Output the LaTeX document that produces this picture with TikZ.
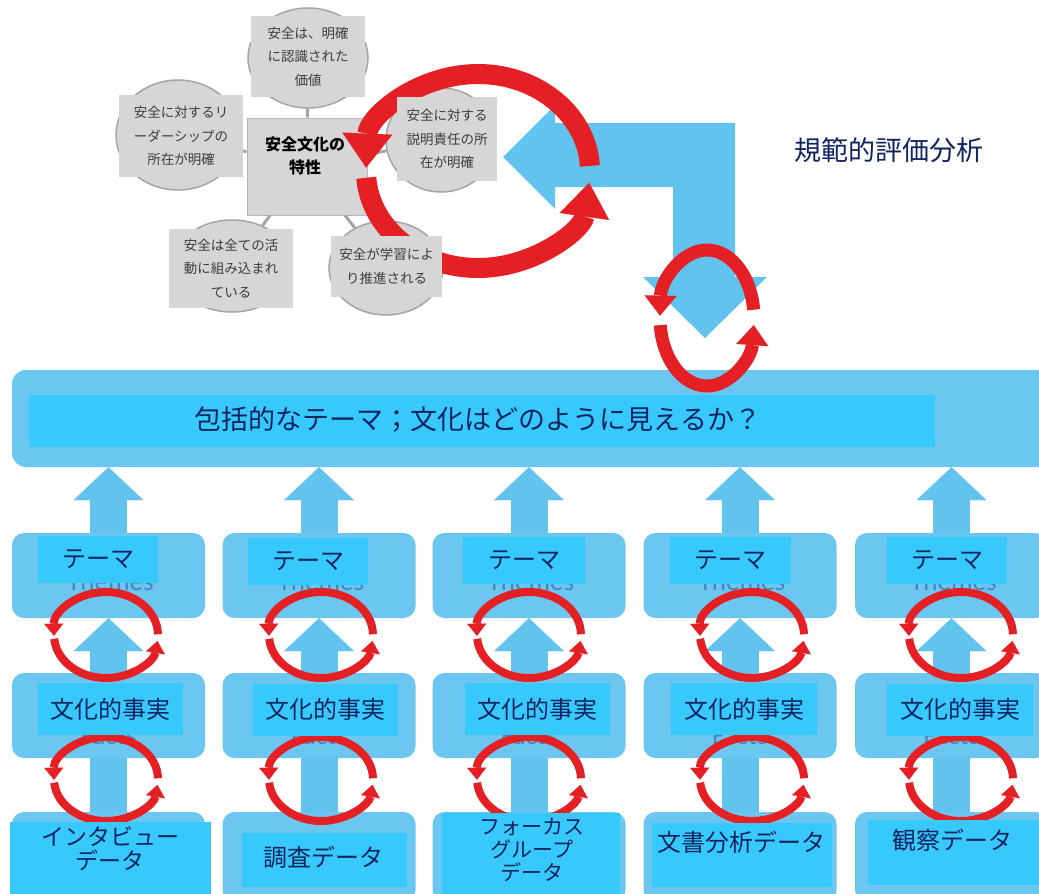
\documentclass[tikz,border=0pt]{standalone}
\usepackage{fontspec}
\setmainfont{Noto Sans CJK JP}
\newfontfamily\ghostfont{Carlito}
\usetikzlibrary{arrows.meta,calc,shapes.geometric}
\definecolor{boxblue}{RGB}{108,199,240}
\definecolor{cyanfill}{RGB}{56,201,252}
\definecolor{arrowblue}{RGB}{98,195,238}
\definecolor{navy}{RGB}{16,36,96}
\definecolor{redarr}{RGB}{228,32,36}
\definecolor{graybox}{RGB}{214,214,214}
\definecolor{grayedge}{RGB}{165,165,165}
\definecolor{graytext}{RGB}{60,60,60}
\definecolor{ghost}{RGB}{72,132,192}
\tikzset{
  satcirc/.style={ellipse, fill=graybox, draw=grayedge, line width=1.5pt, inner sep=0},
  satbox/.style={rectangle, fill=graybox, inner sep=0, text=graytext, align=center, font=\fontsize{13.5pt}{23.5pt}\selectfont},
  satline/.style={draw=grayedge, line width=3pt},
  ctrbox/.style={rectangle, fill=graybox, draw=grayedge!80, line width=1pt, inner sep=0},
  colbox/.style={rectangle, fill=boxblue, rounded corners=12pt, minimum width=193pt, inner sep=0},
  cyanrect/.style={rectangle, fill=cyanfill, inner sep=0},
  coltext/.style={text=navy, align=center, inner sep=0, font=\fontsize{24pt}{24pt}\selectfont},
  ghosttext/.style={text=ghost, inner sep=0, anchor=base, font=\ghostfont\fontsize{27pt}{30pt}\selectfont},
  uparrow/.style={draw=arrowblue, line width=37pt, -{Triangle[length=33pt,width=70pt,line width=0.01pt]}},
  bigloop/.style={draw=redarr, line width=20pt, -{Triangle[length=34pt,width=50pt,line width=0.01pt]}},
  midloop/.style={draw=redarr, line width=13pt, -{Triangle[length=20pt,width=32pt,line width=0.01pt]}},
  smallloop/.style={draw=redarr, line width=8pt, -{Triangle[length=12pt,width=19pt,line width=0.01pt]}},
}
\begin{document}
\setlength{\lineskiplimit}{-30pt}
\begin{tikzpicture}[x=1pt,y=1pt,yscale=-1]
\useasboundingbox (0,0) rectangle (1039,894);
\clip (0,0) rectangle (1039,894);
\fill[white] (0,0) rectangle (1039,894);

% ---------- satellite circles and centre box
\node[satcirc, minimum width=120pt, minimum height=100pt] (c1) at (308,58) {};
\node[satcirc, minimum width=124pt, minimum height=110pt] (c2) at (178,135) {};
\node[satcirc, minimum width=110pt, minimum height=104pt] (c3) at (441,140) {};
\node[satcirc, minimum width=120pt, minimum height=92pt] (c4) at (232,266) {};
\node[satcirc, minimum width=114pt, minimum height=94pt] (c5) at (386,268) {};
\node[ctrbox, minimum width=120pt, minimum height=97pt] (ctr) at (307,166.5) {};
\foreach \c in {c1,c2,c3,c4,c5} \draw[satline] (ctr) -- (\c);

% ---------- blue L-shaped arrow
\coordinate (L1) at (503,157);
\fill[arrowblue] (L1) -- (555,105) -- (555,123) -- (735,123) -- (735,277) -- (767,277)
  -- (705,338) -- (643,277) -- (673,277) -- (673,187) -- (555,187) -- (555,209) -- cycle;

% ---------- big red loop
\coordinate (bigc) at (478,171);
\draw[bigloop] ($(bigc)+(-3:112 and 97)$) arc[start angle=-3, end angle=-178, x radius=112, y radius=97];
\draw[bigloop] ($(bigc)+(176:112 and 97)$) arc[start angle=176, end angle=7, x radius=112, y radius=97];

% ---------- satellite texts
\node[satbox, minimum width=114pt, minimum height=81pt] (s1) at (308,56.5) {安全は、明確\\に認識された\\価値};
\node[satbox, minimum width=124pt, minimum height=82pt] (s2) at (181,136) {安全に対するリ\\ーダーシップの\\所在が明確};
\node[satbox, minimum width=100pt, minimum height=84pt] (s3) at (447,139) {安全に対する\\説明責任の所\\在が明確};
\node[satbox, minimum width=124pt, minimum height=79pt] (s4) at (231,268.5) {安全は全ての活\\動に組み込まれ\\ている};
\node[satbox, minimum width=111pt, minimum height=61pt] (s5) at (386.5,266.5) {安全が学習によ\\り推進される};
\node[align=center, inner sep=0, font=\bfseries\fontsize{16pt}{23pt}\selectfont] (ctrt) at (305,156) {安全文化の\\特性};

% ---------- title
\node[text=navy, inner sep=0, font=\fontsize{27pt}{30pt}\selectfont] (title) at (889,150) {規範的評価分析};

% ---------- overarching bar
\node[colbox, minimum width=1040pt, minimum height=97pt, rounded corners=14pt] (bar) at (532,418.5) {};
\node[cyanrect, minimum width=906pt, minimum height=52pt] (barin) at (482,421) {};
\node[coltext, font=\fontsize{27pt}{30pt}\selectfont] (bart) at (478,419) {包括的なテーマ；文化はどのように見えるか？};

% ---------- small red loop at the down arrow
\coordinate (midc) at (707,318);
\draw[midloop] ($(midc)+(-7:47 and 68)$) arc[start angle=-7, end angle=-178, x radius=47, y radius=68];
\draw[midloop] ($(midc)+(174:47 and 68)$) arc[start angle=174, end angle=6, x radius=47, y radius=68];

% ---------- columns
\foreach \i/\x in {1/108.5,2/319,3/529,4/740,5/951.5} {
  \node[colbox, minimum height=85pt] (t\i) at (\x,575.5) {};
  \node[colbox, minimum height=85pt] (f\i) at (\x,715.5) {};
  \node[colbox, minimum height=90pt] (d\i) at (\x,857) {};
  \node[ghosttext] (gt\i) at (\x+2,590) {Themes};
  \node[ghosttext] (gf\i) at (\x,744) {Facts};
}
\foreach \i in {1,...,5} {
  \draw[uparrow] (t\i.north) -- (t\i.north |- bar.south);
  \draw[uparrow] (f\i.north) -- (f\i.north |- t\i.south);
  \draw[draw=arrowblue, line width=37pt] (d\i.north) -- (d\i.north |- f\i.south);
}
\foreach \x in {106,321,529,752,961} {
  \foreach \y/\ry in {635/43,779/42} {
    \draw[smallloop] ($(\x,\y)+(-1:52 and \ry)$) arc[start angle=-1, end angle=-181, x radius=52, y radius=\ry];
    \draw[smallloop] ($(\x,\y)+(175:52 and \ry)$) arc[start angle=175, end angle=8, x radius=52, y radius=\ry];
  }
}

% theme labels
\node[cyanrect, coltext, minimum width=120pt, minimum height=47pt] (tr1) at (98,559.5) {テーマ};
\node[cyanrect, coltext, minimum width=120pt, minimum height=47pt] (tr2) at (308,561.5) {テーマ};
\node[cyanrect, coltext, minimum width=122pt, minimum height=47pt] (tr3) at (524,560) {テーマ};
\node[cyanrect, coltext, minimum width=121pt, minimum height=47pt] (tr4) at (730.5,560) {テーマ};
\node[cyanrect, coltext, minimum width=120pt, minimum height=47pt] (tr5) at (947,560) {テーマ};
% fact labels
\node[cyanrect, coltext, minimum width=145pt, minimum height=52pt] (fr1) at (110.5,709) {文化的事実};
\node[cyanrect, coltext, minimum width=145pt, minimum height=52pt] (fr2) at (325.5,709.5) {文化的事実};
\node[cyanrect, coltext, minimum width=145pt, minimum height=52pt] (fr3) at (537.5,709) {文化的事実};
\node[cyanrect, coltext, minimum width=146pt, minimum height=52pt] (fr4) at (744,709) {文化的事実};
\node[cyanrect, coltext, minimum width=146pt, minimum height=52pt] (fr5) at (960,709.5) {文化的事実};
% data labels
\node[cyanrect, minimum width=201pt, minimum height=78pt] (dr1) at (110.5,861) {};
\node[coltext, font=\fontsize{23pt}{24pt}\selectfont] (dt1) at (110,849) {インタビュー\\データ};
\node[cyanrect, minimum width=165pt, minimum height=54pt] (dr2) at (324.5,860) {};
\node[coltext] (dt2) at (323,857) {調査データ};
\node[cyanrect, minimum width=178pt, minimum height=88pt] (dr3) at (531,857) {};
\node[coltext, font=\fontsize{21pt}{23pt}\selectfont] (dt3) at (532,850) {フォーカス\\グループ\\データ};
\node[cyanrect, minimum width=180pt, minimum height=64pt] (dr4) at (742,855) {};
\node[coltext] (dt4) at (741,842) {文書分析データ};
\node[cyanrect, minimum width=171pt, minimum height=65pt] (dr5) at (953.5,852.5) {};
\node[coltext] (dt5) at (952,840) {観察データ};
\end{tikzpicture}
\end{document}
